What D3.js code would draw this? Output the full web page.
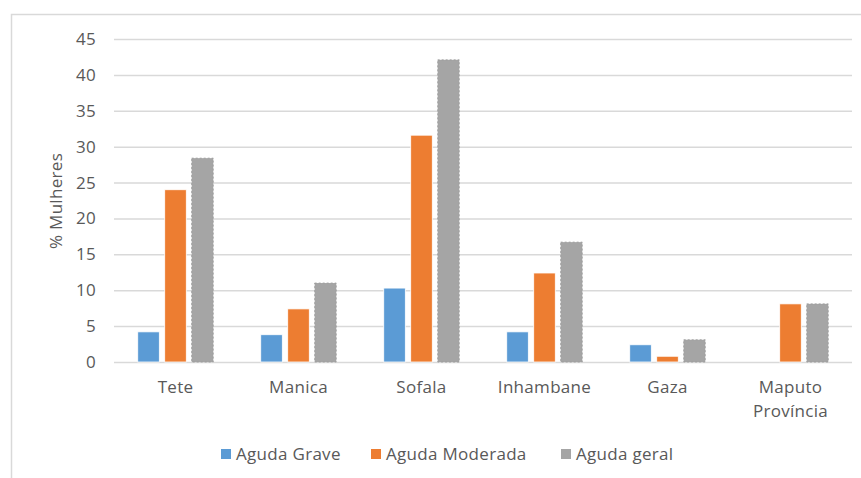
<!DOCTYPE html>
<html lang="en">
<head>
    <meta charset="UTF-8">
    <title>Desnutrição aguda por província</title>
    <script src="https://d3js.org/d3.v7.min.js"></script>
    <style>
        body { margin: 0; background: #fff; }
        text { font-family: "Open Sans", sans-serif; fill: #595959; letter-spacing: 0.3px; }
        .tick line { stroke: #d9d9d9; }
        .domain { display: none; }
    </style>
</head>
<body>
    <div id="chart"></div>
    <script>
        // data
        const provinces = [["Tete"], ["Manica"], ["Sofala"], ["Inhambane"], ["Gaza"], ["Maputo", "Província"]];
        const seriesNames = ["Aguda Grave", "Aguda Moderada", "Aguda geral"];
        const agudaGrave = [4.2, 3.8, 10.3, 4.2, 2.4, null];
        const agudaModerada = [24.0, 7.4, 31.6, 12.4, 0.8, 8.1];
        const agudaGeral = [28.4, 11.0, 42.1, 16.7, 3.1, 8.1];
        const yTicks = [0, 5, 10, 15, 20, 25, 30, 35, 40, 45];
        const colors = ["#5b9bd5", "#ed7d31", "#a5a5a5"];

        const W = 861, H = 478;
        const plot = {left: 114, right: 852, top: 39, bottom: 362};

        const svg = d3.select("#chart").append("svg")
            .attr("width", W)
            .attr("height", H);

        // outer frame (top and left edges show)
        svg.append("path")
            .attr("d", `M11.5,${H} V14.5 H${W}`)
            .attr("fill", "none")
            .attr("stroke", "#d9d9d9")
            .attr("stroke-width", 1.5);

        const keys = provinces.map(p => p.join(" "));
        const x = d3.scaleBand().domain(keys).range([plot.left, plot.right]);
        const xs = d3.scaleBand().domain(seriesNames).range([0, x.bandwidth()]).paddingInner(0.2).paddingOuter(0.88);
        const y = d3.scaleLinear().domain([0, 45]).range([plot.bottom, plot.top]);

        // gridlines + y labels
        const yAxis = svg.append("g")
            .attr("transform", `translate(${plot.left},0)`)
            .call(d3.axisLeft(y).tickValues(yTicks).tickSize(-(plot.right - plot.left)).tickPadding(18));
        yAxis.selectAll(".tick line").attr("stroke", "#d9d9d9").attr("stroke-width", 1.5);
        yAxis.selectAll("text").style("font-size", "17px").attr("fill", "#595959");

        svg.append("text")
            .attr("transform", `translate(62,201) rotate(-90)`)
            .attr("text-anchor", "middle")
            .style("font-size", "17px")
            .text("% Mulheres");

        const rows = keys.map((k, i) => ({
            key: k,
            values: [agudaGrave[i], agudaModerada[i], agudaGeral[i]]
        }));

        const groups = svg.append("g").selectAll("g")
            .data(rows)
            .enter().append("g")
            .attr("transform", d => `translate(${x(d.key)},0)`);

        groups.selectAll("rect")
            .data(d => d.values.map((v, j) => ({name: seriesNames[j], value: v, j})).filter(d => d.value != null))
            .enter().append("rect")
            .attr("x", d => xs(d.name))
            .attr("width", xs.bandwidth())
            .attr("y", d => y(d.value))
            .attr("height", d => y(0) - y(d.value))
            .attr("fill", d => colors[d.j])
            .attr("stroke", d => d.j === 2 ? "#999" : "#fff")
            .attr("stroke-dasharray", d => d.j === 2 ? "2,2" : null)
            .attr("stroke-width", 0.8);

        // category labels
        const xLab = svg.append("g").selectAll("text")
            .data(provinces)
            .enter().append("text")
            .attr("x", (d, i) => x(keys[i]) + x.bandwidth() / 2)
            .attr("y", 393)
            .attr("text-anchor", "middle")
            .style("font-size", "17px");
        xLab.selectAll("tspan")
            .data(d => d)
            .enter().append("tspan")
            .attr("x", function() { return this.parentNode.getAttribute("x"); })
            .attr("dy", (d, i) => i === 0 ? 0 : 24)
            .text(d => d);

        // legend
        const legendX = [221, 371, 561];
        const legend = svg.append("g").selectAll("g")
            .data(seriesNames)
            .enter().append("g")
            .attr("transform", (d, i) => `translate(${legendX[i]},449)`);
        legend.append("rect")
            .attr("width", 10)
            .attr("height", 10)
            .attr("fill", (d, i) => colors[i]);
        legend.append("text")
            .attr("x", 15)
            .attr("y", 11)
            .style("font-size", "17px")
            .text(d => d);
    </script>
</body>
</html>
